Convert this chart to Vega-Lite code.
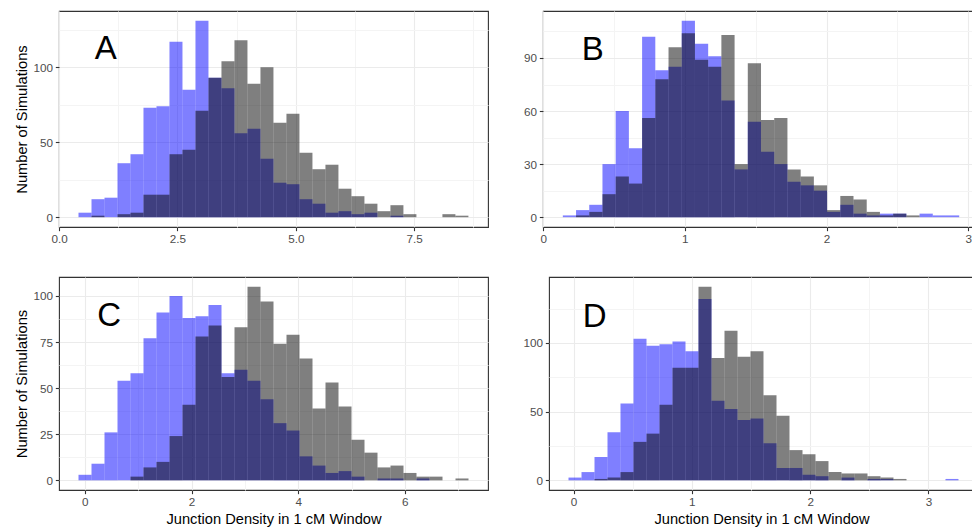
{
"$schema": "https://vega.github.io/schema/vega-lite/v6.json",
"padding": {"left": 13, "top": 10, "right": 0, "bottom": 0},
"background": "white",
"config": {
  "font": "Liberation Sans",
  "view": {"stroke": "#333333", "strokeWidth": 1.1},
  "axis": {"domain": false, "grid": true, "gridColor": "#EBEBEB", "gridWidth": 1.1, "tickColor": "#333333", "tickSize": 3.67, "tickWidth": 1.1, "labelColor": "#4D4D4D", "labelFontSize": 11.7, "labelPadding": 2.9, "titleFontSize": 14.67, "titleFontWeight": "normal", "titleColor": "#000000", "labelFlush": false, "labelOverlap": false, "titlePadding": 3.7},
  "text": {"font": "Liberation Sans", "fontSize": 33, "color": "#000000", "align": "center", "baseline": "alphabetic"}
},
"datasets": {
"bins": [
{"p":"A","g":"blue","x0":0.408,"x1":0.6827,"n":3},
{"p":"A","g":"blue","x0":0.6827,"x1":0.9573,"n":12},
{"p":"A","g":"blue","x0":0.9573,"x1":1.232,"n":13},
{"p":"A","g":"blue","x0":1.232,"x1":1.5067,"n":36},
{"p":"A","g":"blue","x0":1.5067,"x1":1.7813,"n":42},
{"p":"A","g":"blue","x0":1.7813,"x1":2.056,"n":73},
{"p":"A","g":"blue","x0":2.056,"x1":2.3307,"n":74},
{"p":"A","g":"blue","x0":2.3307,"x1":2.6053,"n":117},
{"p":"A","g":"blue","x0":2.6053,"x1":2.88,"n":85},
{"p":"A","g":"blue","x0":2.88,"x1":3.1547,"n":131},
{"p":"A","g":"blue","x0":3.1547,"x1":3.4293,"n":93},
{"p":"A","g":"blue","x0":3.4293,"x1":3.704,"n":86},
{"p":"A","g":"blue","x0":3.704,"x1":3.9787,"n":56},
{"p":"A","g":"blue","x0":3.9787,"x1":4.2533,"n":59},
{"p":"A","g":"blue","x0":4.2533,"x1":4.528,"n":39},
{"p":"A","g":"blue","x0":4.528,"x1":4.8027,"n":23},
{"p":"A","g":"blue","x0":4.8027,"x1":5.0773,"n":22},
{"p":"A","g":"blue","x0":5.0773,"x1":5.352,"n":12},
{"p":"A","g":"blue","x0":5.352,"x1":5.6267,"n":9},
{"p":"A","g":"blue","x0":5.6267,"x1":5.9013,"n":3},
{"p":"A","g":"blue","x0":5.9013,"x1":6.176,"n":4},
{"p":"A","g":"blue","x0":6.176,"x1":6.4507,"n":2},
{"p":"A","g":"blue","x0":6.4507,"x1":6.7253,"n":3},
{"p":"A","g":"blue","x0":7.0,"x1":7.2747,"n":1},
{"p":"B","g":"blue","x0":0.1388,"x1":0.2321,"n":1},
{"p":"B","g":"blue","x0":0.2321,"x1":0.3253,"n":4},
{"p":"B","g":"blue","x0":0.3253,"x1":0.4186,"n":7},
{"p":"B","g":"blue","x0":0.4186,"x1":0.5118,"n":30},
{"p":"B","g":"blue","x0":0.5118,"x1":0.6051,"n":60},
{"p":"B","g":"blue","x0":0.6051,"x1":0.6984,"n":39},
{"p":"B","g":"blue","x0":0.6984,"x1":0.7916,"n":102},
{"p":"B","g":"blue","x0":0.7916,"x1":0.8849,"n":83},
{"p":"B","g":"blue","x0":0.8849,"x1":0.9781,"n":85},
{"p":"B","g":"blue","x0":0.9781,"x1":1.0714,"n":111},
{"p":"B","g":"blue","x0":1.0714,"x1":1.1647,"n":98},
{"p":"B","g":"blue","x0":1.1647,"x1":1.2579,"n":91},
{"p":"B","g":"blue","x0":1.2579,"x1":1.3512,"n":66},
{"p":"B","g":"blue","x0":1.3512,"x1":1.4444,"n":27},
{"p":"B","g":"blue","x0":1.4444,"x1":1.5377,"n":54},
{"p":"B","g":"blue","x0":1.5377,"x1":1.631,"n":37},
{"p":"B","g":"blue","x0":1.631,"x1":1.7242,"n":30},
{"p":"B","g":"blue","x0":1.7242,"x1":1.8175,"n":20},
{"p":"B","g":"blue","x0":1.8175,"x1":1.9107,"n":18},
{"p":"B","g":"blue","x0":1.9107,"x1":2.004,"n":15},
{"p":"B","g":"blue","x0":2.004,"x1":2.0973,"n":3},
{"p":"B","g":"blue","x0":2.0973,"x1":2.1905,"n":7},
{"p":"B","g":"blue","x0":2.1905,"x1":2.2838,"n":2},
{"p":"B","g":"blue","x0":2.2838,"x1":2.377,"n":1},
{"p":"B","g":"blue","x0":2.377,"x1":2.4703,"n":2},
{"p":"B","g":"blue","x0":2.4703,"x1":2.5636,"n":2},
{"p":"B","g":"blue","x0":2.6568,"x1":2.7501,"n":2},
{"p":"B","g":"blue","x0":2.7501,"x1":2.8433,"n":1},
{"p":"B","g":"blue","x0":2.8433,"x1":2.9366,"n":1},
{"p":"C","g":"blue","x0":-0.1188,"x1":0.125,"n":3},
{"p":"C","g":"blue","x0":0.125,"x1":0.3687,"n":9},
{"p":"C","g":"blue","x0":0.3687,"x1":0.6125,"n":26},
{"p":"C","g":"blue","x0":0.6125,"x1":0.8562,"n":54},
{"p":"C","g":"blue","x0":0.8562,"x1":1.1,"n":58},
{"p":"C","g":"blue","x0":1.1,"x1":1.3437,"n":77},
{"p":"C","g":"blue","x0":1.3437,"x1":1.5875,"n":91},
{"p":"C","g":"blue","x0":1.5875,"x1":1.8312,"n":100},
{"p":"C","g":"blue","x0":1.8312,"x1":2.075,"n":88},
{"p":"C","g":"blue","x0":2.075,"x1":2.3187,"n":89},
{"p":"C","g":"blue","x0":2.3187,"x1":2.5625,"n":95},
{"p":"C","g":"blue","x0":2.5625,"x1":2.8062,"n":58},
{"p":"C","g":"blue","x0":2.8062,"x1":3.05,"n":60},
{"p":"C","g":"blue","x0":3.05,"x1":3.2937,"n":54},
{"p":"C","g":"blue","x0":3.2937,"x1":3.5375,"n":44},
{"p":"C","g":"blue","x0":3.5375,"x1":3.7812,"n":31},
{"p":"C","g":"blue","x0":3.7812,"x1":4.025,"n":27},
{"p":"C","g":"blue","x0":4.025,"x1":4.2687,"n":13},
{"p":"C","g":"blue","x0":4.2687,"x1":4.5125,"n":8},
{"p":"C","g":"blue","x0":4.5125,"x1":4.7562,"n":4},
{"p":"C","g":"blue","x0":4.7562,"x1":5.0,"n":5},
{"p":"C","g":"blue","x0":5.0,"x1":5.2437,"n":2},
{"p":"C","g":"blue","x0":5.4875,"x1":5.7312,"n":1},
{"p":"C","g":"blue","x0":5.7312,"x1":5.975,"n":1},
{"p":"C","g":"blue","x0":6.2187,"x1":6.4625,"n":1},
{"p":"D","g":"blue","x0":-0.0423,"x1":0.0676,"n":2},
{"p":"D","g":"blue","x0":0.0676,"x1":0.1774,"n":6},
{"p":"D","g":"blue","x0":0.1774,"x1":0.2873,"n":17},
{"p":"D","g":"blue","x0":0.2873,"x1":0.3971,"n":35},
{"p":"D","g":"blue","x0":0.3971,"x1":0.507,"n":56},
{"p":"D","g":"blue","x0":0.507,"x1":0.6169,"n":103},
{"p":"D","g":"blue","x0":0.6169,"x1":0.7267,"n":98},
{"p":"D","g":"blue","x0":0.7267,"x1":0.8366,"n":99},
{"p":"D","g":"blue","x0":0.8366,"x1":0.9464,"n":101},
{"p":"D","g":"blue","x0":0.9464,"x1":1.0563,"n":94},
{"p":"D","g":"blue","x0":1.0563,"x1":1.1662,"n":132},
{"p":"D","g":"blue","x0":1.1662,"x1":1.276,"n":58},
{"p":"D","g":"blue","x0":1.276,"x1":1.3859,"n":52},
{"p":"D","g":"blue","x0":1.3859,"x1":1.4957,"n":44},
{"p":"D","g":"blue","x0":1.4957,"x1":1.6056,"n":45},
{"p":"D","g":"blue","x0":1.6056,"x1":1.7155,"n":27},
{"p":"D","g":"blue","x0":1.7155,"x1":1.8253,"n":9},
{"p":"D","g":"blue","x0":1.8253,"x1":1.9352,"n":9},
{"p":"D","g":"blue","x0":1.9352,"x1":2.045,"n":4},
{"p":"D","g":"blue","x0":2.045,"x1":2.1549,"n":3},
{"p":"D","g":"blue","x0":2.2648,"x1":2.3746,"n":2},
{"p":"D","g":"blue","x0":2.4845,"x1":2.5943,"n":1},
{"p":"D","g":"blue","x0":2.5943,"x1":2.7042,"n":1},
{"p":"D","g":"blue","x0":3.1436,"x1":3.2535,"n":1},
{"p":"A","g":"gray","x0":0.6827,"x1":0.9573,"n":1},
{"p":"A","g":"gray","x0":1.232,"x1":1.5067,"n":2},
{"p":"A","g":"gray","x0":1.5067,"x1":1.7813,"n":3},
{"p":"A","g":"gray","x0":1.7813,"x1":2.056,"n":15},
{"p":"A","g":"gray","x0":2.056,"x1":2.3307,"n":15},
{"p":"A","g":"gray","x0":2.3307,"x1":2.6053,"n":42},
{"p":"A","g":"gray","x0":2.6053,"x1":2.88,"n":45},
{"p":"A","g":"gray","x0":2.88,"x1":3.1547,"n":71},
{"p":"A","g":"gray","x0":3.1547,"x1":3.4293,"n":93},
{"p":"A","g":"gray","x0":3.4293,"x1":3.704,"n":104},
{"p":"A","g":"gray","x0":3.704,"x1":3.9787,"n":118},
{"p":"A","g":"gray","x0":3.9787,"x1":4.2533,"n":89},
{"p":"A","g":"gray","x0":4.2533,"x1":4.528,"n":100},
{"p":"A","g":"gray","x0":4.528,"x1":4.8027,"n":63},
{"p":"A","g":"gray","x0":4.8027,"x1":5.0773,"n":69},
{"p":"A","g":"gray","x0":5.0773,"x1":5.352,"n":43},
{"p":"A","g":"gray","x0":5.352,"x1":5.6267,"n":32},
{"p":"A","g":"gray","x0":5.6267,"x1":5.9013,"n":35},
{"p":"A","g":"gray","x0":5.9013,"x1":6.176,"n":19},
{"p":"A","g":"gray","x0":6.176,"x1":6.4507,"n":14},
{"p":"A","g":"gray","x0":6.4507,"x1":6.7253,"n":9},
{"p":"A","g":"gray","x0":6.7253,"x1":7.0,"n":4},
{"p":"A","g":"gray","x0":7.0,"x1":7.2747,"n":8},
{"p":"A","g":"gray","x0":7.2747,"x1":7.5493,"n":2},
{"p":"A","g":"gray","x0":8.0987,"x1":8.3733,"n":2},
{"p":"A","g":"gray","x0":8.3733,"x1":8.648,"n":1},
{"p":"B","g":"gray","x0":0.2321,"x1":0.3253,"n":1},
{"p":"B","g":"gray","x0":0.3253,"x1":0.4186,"n":3},
{"p":"B","g":"gray","x0":0.4186,"x1":0.5118,"n":13},
{"p":"B","g":"gray","x0":0.5118,"x1":0.6051,"n":23},
{"p":"B","g":"gray","x0":0.6051,"x1":0.6984,"n":19},
{"p":"B","g":"gray","x0":0.6984,"x1":0.7916,"n":56},
{"p":"B","g":"gray","x0":0.7916,"x1":0.8849,"n":78},
{"p":"B","g":"gray","x0":0.8849,"x1":0.9781,"n":96},
{"p":"B","g":"gray","x0":0.9781,"x1":1.0714,"n":104},
{"p":"B","g":"gray","x0":1.0714,"x1":1.1647,"n":89},
{"p":"B","g":"gray","x0":1.1647,"x1":1.2579,"n":85},
{"p":"B","g":"gray","x0":1.2579,"x1":1.3512,"n":103},
{"p":"B","g":"gray","x0":1.3512,"x1":1.4444,"n":30},
{"p":"B","g":"gray","x0":1.4444,"x1":1.5377,"n":87},
{"p":"B","g":"gray","x0":1.5377,"x1":1.631,"n":55},
{"p":"B","g":"gray","x0":1.631,"x1":1.7242,"n":56},
{"p":"B","g":"gray","x0":1.7242,"x1":1.8175,"n":27},
{"p":"B","g":"gray","x0":1.8175,"x1":1.9107,"n":23},
{"p":"B","g":"gray","x0":1.9107,"x1":2.004,"n":18},
{"p":"B","g":"gray","x0":2.004,"x1":2.0973,"n":4},
{"p":"B","g":"gray","x0":2.0973,"x1":2.1905,"n":12},
{"p":"B","g":"gray","x0":2.1905,"x1":2.2838,"n":10},
{"p":"B","g":"gray","x0":2.2838,"x1":2.377,"n":3},
{"p":"B","g":"gray","x0":2.377,"x1":2.4703,"n":1},
{"p":"B","g":"gray","x0":2.4703,"x1":2.5636,"n":2},
{"p":"B","g":"gray","x0":2.5636,"x1":2.6568,"n":1},
{"p":"C","g":"gray","x0":0.8562,"x1":1.1,"n":2},
{"p":"C","g":"gray","x0":1.1,"x1":1.3437,"n":7},
{"p":"C","g":"gray","x0":1.3437,"x1":1.5875,"n":10},
{"p":"C","g":"gray","x0":1.5875,"x1":1.8312,"n":24},
{"p":"C","g":"gray","x0":1.8312,"x1":2.075,"n":41},
{"p":"C","g":"gray","x0":2.075,"x1":2.3187,"n":78},
{"p":"C","g":"gray","x0":2.3187,"x1":2.5625,"n":84},
{"p":"C","g":"gray","x0":2.5625,"x1":2.8062,"n":56},
{"p":"C","g":"gray","x0":2.8062,"x1":3.05,"n":83},
{"p":"C","g":"gray","x0":3.05,"x1":3.2937,"n":105},
{"p":"C","g":"gray","x0":3.2937,"x1":3.5375,"n":97},
{"p":"C","g":"gray","x0":3.5375,"x1":3.7812,"n":74},
{"p":"C","g":"gray","x0":3.7812,"x1":4.025,"n":79},
{"p":"C","g":"gray","x0":4.025,"x1":4.2687,"n":66},
{"p":"C","g":"gray","x0":4.2687,"x1":4.5125,"n":39},
{"p":"C","g":"gray","x0":4.5125,"x1":4.7562,"n":53},
{"p":"C","g":"gray","x0":4.7562,"x1":5.0,"n":40},
{"p":"C","g":"gray","x0":5.0,"x1":5.2437,"n":22},
{"p":"C","g":"gray","x0":5.2437,"x1":5.4875,"n":15},
{"p":"C","g":"gray","x0":5.4875,"x1":5.7312,"n":7},
{"p":"C","g":"gray","x0":5.7312,"x1":5.975,"n":8},
{"p":"C","g":"gray","x0":5.975,"x1":6.2187,"n":4},
{"p":"C","g":"gray","x0":6.2187,"x1":6.4625,"n":2},
{"p":"C","g":"gray","x0":6.4625,"x1":6.7062,"n":2},
{"p":"C","g":"gray","x0":6.95,"x1":7.1937,"n":1},
{"p":"D","g":"gray","x0":0.1774,"x1":0.2873,"n":1},
{"p":"D","g":"gray","x0":0.2873,"x1":0.3971,"n":2},
{"p":"D","g":"gray","x0":0.3971,"x1":0.507,"n":6},
{"p":"D","g":"gray","x0":0.507,"x1":0.6169,"n":28},
{"p":"D","g":"gray","x0":0.6169,"x1":0.7267,"n":34},
{"p":"D","g":"gray","x0":0.7267,"x1":0.8366,"n":55},
{"p":"D","g":"gray","x0":0.8366,"x1":0.9464,"n":82},
{"p":"D","g":"gray","x0":0.9464,"x1":1.0563,"n":82},
{"p":"D","g":"gray","x0":1.0563,"x1":1.1662,"n":141},
{"p":"D","g":"gray","x0":1.1662,"x1":1.276,"n":89},
{"p":"D","g":"gray","x0":1.276,"x1":1.3859,"n":109},
{"p":"D","g":"gray","x0":1.3859,"x1":1.4957,"n":90},
{"p":"D","g":"gray","x0":1.4957,"x1":1.6056,"n":94},
{"p":"D","g":"gray","x0":1.6056,"x1":1.7155,"n":62},
{"p":"D","g":"gray","x0":1.7155,"x1":1.8253,"n":47},
{"p":"D","g":"gray","x0":1.8253,"x1":1.9352,"n":22},
{"p":"D","g":"gray","x0":1.9352,"x1":2.045,"n":19},
{"p":"D","g":"gray","x0":2.045,"x1":2.1549,"n":14},
{"p":"D","g":"gray","x0":2.1549,"x1":2.2648,"n":6},
{"p":"D","g":"gray","x0":2.2648,"x1":2.3746,"n":5},
{"p":"D","g":"gray","x0":2.3746,"x1":2.4845,"n":5},
{"p":"D","g":"gray","x0":2.4845,"x1":2.5943,"n":3},
{"p":"D","g":"gray","x0":2.5943,"x1":2.7042,"n":2},
{"p":"D","g":"gray","x0":2.7042,"x1":2.8141,"n":1}
]
},
"spacing": 30,
"vconcat": [
{"spacing": 33, "hconcat": [
{"width": 429, "height": 216,
 "resolve": {"axis": {"x": "independent", "y": "independent"}},
 "layer": [
  {"data": {"name": "bins"}, "transform": [{"filter": "datum.p === 'A'"}],
   "mark": {"type": "rect", "opacity": 0.5},
   "encoding": {
    "x": {"field": "x0", "type": "quantitative", "scale": {"domain": [-0.004, 9.062], "nice": false, "zero": false}, "axis": {"values": [0, 2.5, 5, 7.5], "format": ".1f", "title": null}},
    "x2": {"field": "x1"},
    "y": {"field": "n", "type": "quantitative", "scale": {"domain": [-6.55, 137.55], "nice": false, "zero": false}, "axis": {"values": [0, 50, 100], "title": "Number of Simulations"}},
    "y2": {"datum": 0},
    "color": {"field": "g", "type": "nominal", "scale": {"domain": ["blue", "gray"], "range": ["#0000FF", "#000000"]}, "legend": null}
   }},
  {"data": {"values": [{"label": "A"}]}, "mark": {"type": "text"},
   "encoding": {
    "x": {"datum": 0.983, "type": "quantitative", "axis": {"orient": "top", "values": [1.25, 3.75, 6.25, 8.75], "grid": true, "gridColor": "#F4F4F4", "labels": false, "ticks": false, "domain": false, "title": null}},
    "y": {"datum": 105.8, "type": "quantitative", "axis": {"orient": "right", "values": [25, 75, 125], "grid": true, "gridColor": "#F4F4F4", "labels": false, "ticks": false, "domain": false, "title": null}},
    "text": {"field": "label"}
   }}
 ]},
{"width": 431, "height": 216,
 "resolve": {"axis": {"x": "independent", "y": "independent"}},
 "layer": [
  {"data": {"name": "bins"}, "transform": [{"filter": "datum.p === 'B'"}],
   "mark": {"type": "rect", "opacity": 0.5},
   "encoding": {
    "x": {"field": "x0", "type": "quantitative", "scale": {"domain": [-0.0011, 3.041], "nice": false, "zero": false}, "axis": {"values": [0, 1, 2, 3], "title": null}},
    "x2": {"field": "x1"},
    "y": {"field": "n", "type": "quantitative", "scale": {"domain": [-5.55, 116.55], "nice": false, "zero": false}, "axis": {"values": [0, 30, 60, 90], "title": null}},
    "y2": {"datum": 0},
    "color": {"field": "g", "type": "nominal", "scale": {"domain": ["blue", "gray"], "range": ["#0000FF", "#000000"]}, "legend": null}
   }},
  {"data": {"values": [{"label": "B"}]}, "mark": {"type": "text"},
   "encoding": {
    "x": {"datum": 0.35, "type": "quantitative", "axis": {"orient": "top", "values": [0.5, 1.5, 2.5], "grid": true, "gridColor": "#F4F4F4", "labels": false, "ticks": false, "domain": false, "title": null}},
    "y": {"datum": 89.1, "type": "quantitative", "axis": {"orient": "right", "values": [15, 45, 75, 105], "grid": true, "gridColor": "#F4F4F4", "labels": false, "ticks": false, "domain": false, "title": null}},
    "text": {"field": "label"}
   }}
 ]}
]},
{"spacing": 33, "hconcat": [
{"width": 429, "height": 213,
 "resolve": {"axis": {"x": "independent", "y": "independent"}},
 "layer": [
  {"data": {"name": "bins"}, "transform": [{"filter": "datum.p === 'C'"}],
   "mark": {"type": "rect", "opacity": 0.5},
   "encoding": {
    "x": {"field": "x0", "type": "quantitative", "scale": {"domain": [-0.4844, 7.5593], "nice": false, "zero": false}, "axis": {"values": [0, 2, 4, 6], "title": "Junction Density in 1 cM Window"}},
    "x2": {"field": "x1"},
    "y": {"field": "n", "type": "quantitative", "scale": {"domain": [-5.25, 110.25], "nice": false, "zero": false}, "axis": {"values": [0, 25, 50, 75, 100], "title": "Number of Simulations"}},
    "y2": {"datum": 0},
    "color": {"field": "g", "type": "nominal", "scale": {"domain": ["blue", "gray"], "range": ["#0000FF", "#000000"]}, "legend": null}
   }},
  {"data": {"values": [{"label": "C"}]}, "mark": {"type": "text"},
   "encoding": {
    "x": {"datum": 0.454, "type": "quantitative", "axis": {"orient": "top", "values": [1, 3, 5, 7], "grid": true, "gridColor": "#F4F4F4", "labels": false, "ticks": false, "domain": false, "title": null}},
    "y": {"datum": 83.7, "type": "quantitative", "axis": {"orient": "right", "values": [12.5, 37.5, 62.5, 87.5], "grid": true, "gridColor": "#F4F4F4", "labels": false, "ticks": false, "domain": false, "title": null}},
    "text": {"field": "label"}
   }}
 ]},
{"width": 425, "height": 213,
 "resolve": {"axis": {"x": "independent", "y": "independent"}},
 "layer": [
  {"data": {"name": "bins"}, "transform": [{"filter": "datum.p === 'D'"}],
   "mark": {"type": "rect", "opacity": 0.5},
   "encoding": {
    "x": {"field": "x0", "type": "quantitative", "scale": {"domain": [-0.2071, 3.3846], "nice": false, "zero": false}, "axis": {"values": [0, 1, 2, 3], "title": "Junction Density in 1 cM Window"}},
    "x2": {"field": "x1"},
    "y": {"field": "n", "type": "quantitative", "scale": {"domain": [-7.05, 148.05], "nice": false, "zero": false}, "axis": {"values": [0, 50, 100], "title": null}},
    "y2": {"datum": 0},
    "color": {"field": "g", "type": "nominal", "scale": {"domain": ["blue", "gray"], "range": ["#0000FF", "#000000"]}, "legend": null}
   }},
  {"data": {"values": [{"label": "D"}]}, "mark": {"type": "text"},
   "encoding": {
    "x": {"datum": 0.179, "type": "quantitative", "axis": {"orient": "top", "values": [0.5, 1.5, 2.5], "grid": true, "gridColor": "#F4F4F4", "labels": false, "ticks": false, "domain": false, "title": null}},
    "y": {"datum": 111.7, "type": "quantitative", "axis": {"orient": "right", "values": [25, 75, 125], "grid": true, "gridColor": "#F4F4F4", "labels": false, "ticks": false, "domain": false, "title": null}},
    "text": {"field": "label"}
   }}
 ]}
]}
]
}
